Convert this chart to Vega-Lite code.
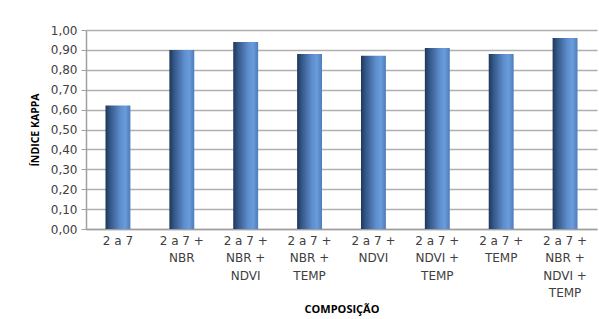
{
  "$schema": "https://vega.github.io/schema/vega-lite/v6.json",
  "width": 511,
  "height": 199,
  "autosize": {"type": "none"},
  "padding": {"left": 86, "top": 30, "right": 2, "bottom": 90},
  "background": "white",
  "config": {"view": {"stroke": null}, "font": "DejaVu Sans"},
  "data": {"values": [
    {"composicao": "2 a 7", "kappa": 0.62},
    {"composicao": "2 a 7 + NBR", "kappa": 0.90},
    {"composicao": "2 a 7 + NBR + NDVI", "kappa": 0.94},
    {"composicao": "2 a 7 + NBR + TEMP", "kappa": 0.88},
    {"composicao": "2 a 7 + NDVI", "kappa": 0.87},
    {"composicao": "2 a 7 + NDVI + TEMP", "kappa": 0.91},
    {"composicao": "2 a 7 + TEMP", "kappa": 0.88},
    {"composicao": "2 a 7 + NBR + NDVI + TEMP", "kappa": 0.96}
  ]},
  "mark": {
    "type": "bar",
    "color": {
      "gradient": "linear", "x1": 0, "y1": 0, "x2": 1, "y2": 0,
      "stops": [
        {"offset": 0, "color": "#1f3759"},
        {"offset": 0.2, "color": "#35598a"},
        {"offset": 0.6, "color": "#5d8ecd"},
        {"offset": 0.8, "color": "#6a9bdb"},
        {"offset": 1, "color": "#4d7cba"}
      ]
    }
  },
  "encoding": {
    "x": {
      "field": "composicao", "type": "nominal", "sort": null,
      "scale": {"paddingInner": 0.61, "paddingOuter": 0.305},
      "axis": {
        "title": "COMPOSIÇÃO",
        "titleFont": "Open Sans", "titleFontWeight": "bold", "titleFontSize": 11, "titleColor": "#000000",
        "titlePadding": 5,
        "labelAngle": 0,
        "labelExpr": "split(replace(datum.label, regexp(' \\\\+ ', 'g'), ' +|'), '|')",
        "labelFont": "DejaVu Sans", "labelFontSize": 12, "labelColor": "#404040",
        "labelLineHeight": 17.5, "labelPadding": 6,
        "ticks": false,
        "domainColor": "#a0a0a0", "domainWidth": 1.5
      }
    },
    "y": {
      "field": "kappa", "type": "quantitative",
      "scale": {"domain": [0, 1]},
      "axis": {
        "title": "ÍNDICE KAPPA",
        "titleFont": "Open Sans", "titleFontWeight": "bold", "titleFontSize": 10.5, "titleColor": "#000000",
        "titlePadding": 10,
        "values": [0, 0.1, 0.2, 0.3, 0.4, 0.5, 0.6, 0.7, 0.8, 0.9, 1.0],
        "labelExpr": "replace(format(datum.value, '.2f'), '.', ',')",
        "labelFont": "DejaVu Sans", "labelFontSize": 12, "labelColor": "#404040",
        "labelPadding": 4,
        "tickSize": 5, "tickColor": "#a0a0a0",
        "domainColor": "#a0a0a0", "domainWidth": 1.5,
        "gridColor": "#b0b0b0", "gridWidth": 1.5
      }
    }
  }
}
